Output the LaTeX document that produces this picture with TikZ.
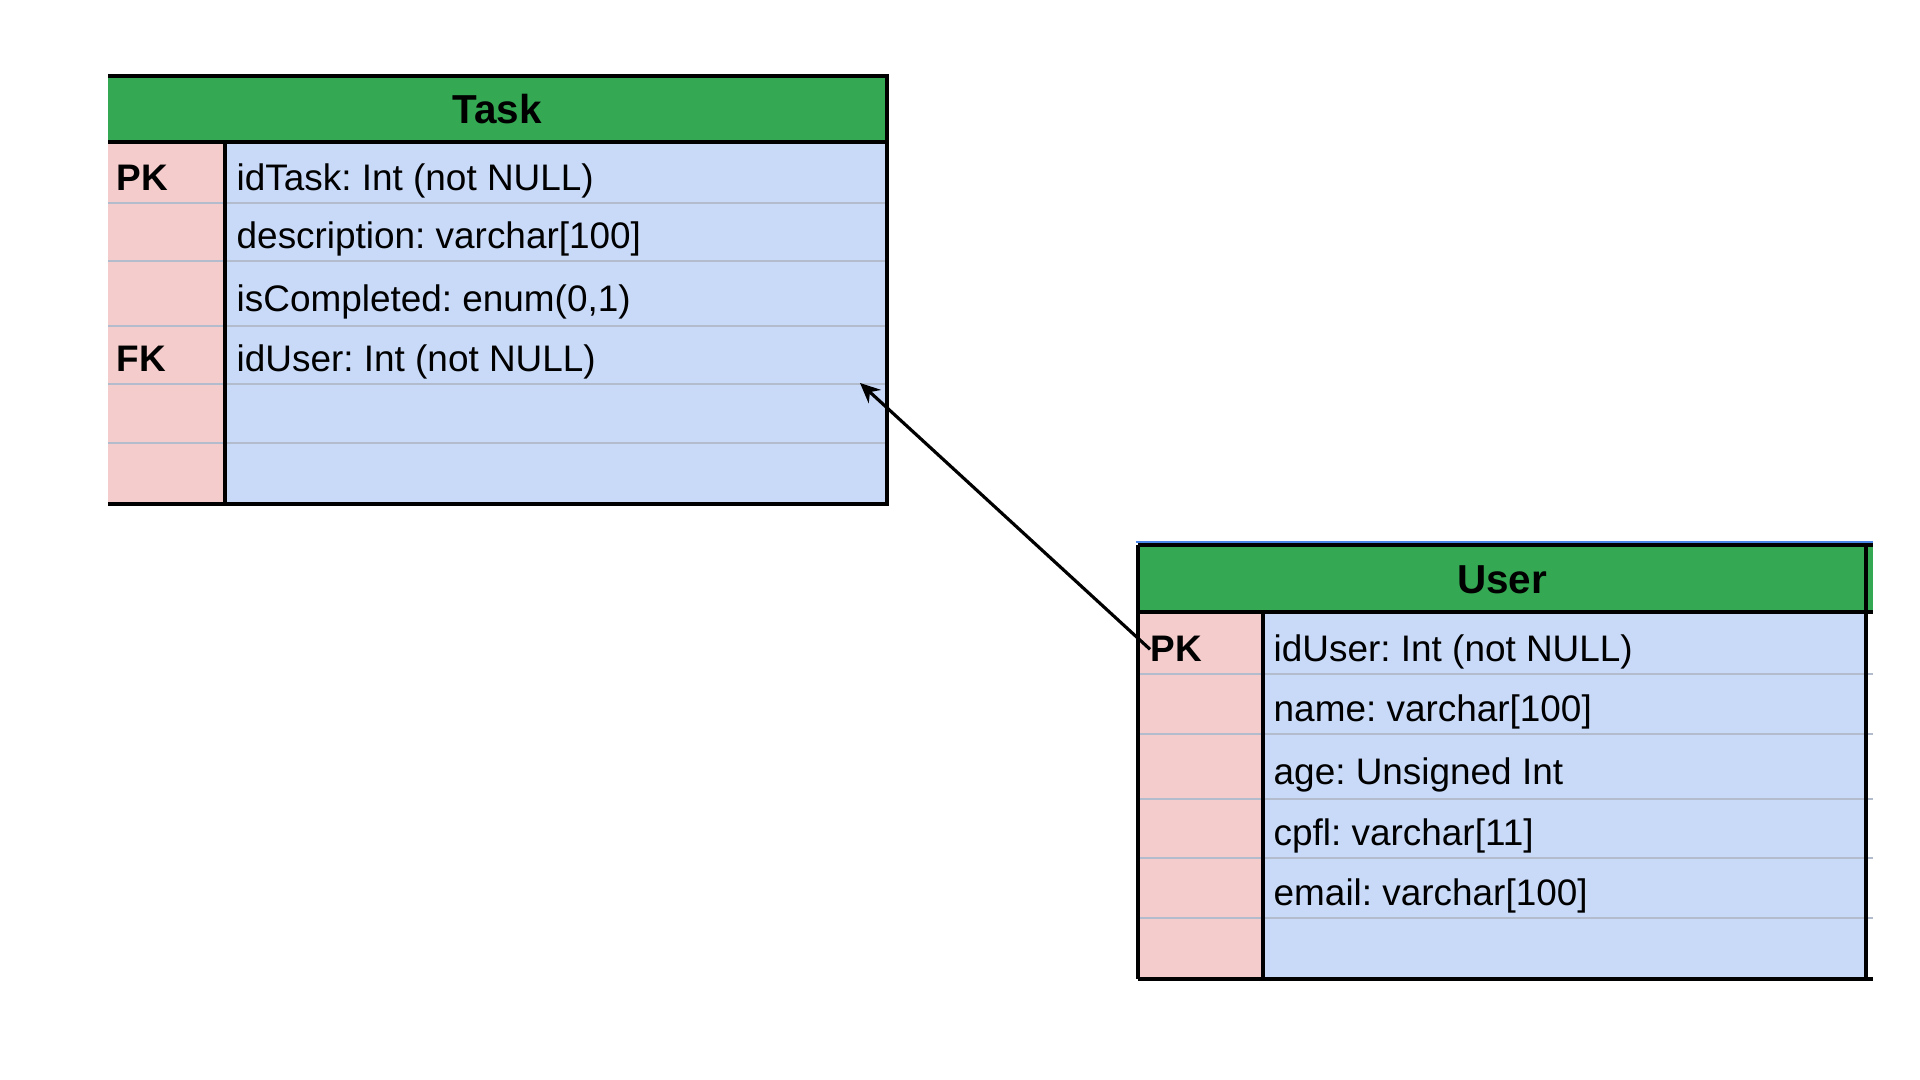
\documentclass[tikz,border=0pt]{standalone}
\usepackage{fontspec}
\setmainfont{Liberation Sans}
\usetikzlibrary{arrows.meta,positioning}
\definecolor{hdrgreen}{HTML}{34A853}
\definecolor{keypink}{HTML}{F4CCCC}
\definecolor{colblue}{HTML}{C9DAF8}
\definecolor{gridgray}{HTML}{B2BCCC}
\definecolor{selblue}{HTML}{4A86E8}
\frenchspacing

\begin{document}
\begin{tikzpicture}[x=0.01cm,y=-0.01cm,font=\fontsize{10.5}{12}\selectfont,
  cell/.style={anchor=base west,inner sep=0pt},
  key/.style={cell,font=\fontsize{10.5}{12}\selectfont\bfseries},
  title/.style={anchor=base,inner sep=0pt,font=\fontsize{11.5}{13}\selectfont\bfseries},
  grid/.style={gridgray,line width=0.6pt},
  border/.style={black,line width=1.4pt},
  arr/.style={-{Stealth[length=2mm,width=1.8mm]},line width=0.9pt}]
\useasboundingbox (0,0) rectangle (1920,1080);

% Task table
\fill[hdrgreen] (108,76) rectangle (887,142);
\fill[keypink] (108,142) rectangle (225,504);
\fill[colblue] (225,142) rectangle (887,504);
\foreach \y in {203,261,326,384,443}
  \draw[grid] (108,\y) -- (887,\y);
\draw[border] (108,76) -- (887,76) -- (887,504) -- (108,504);
\draw[border] (108,142) -- (887,142);
\draw[border] (225,142) -- (225,504);
\node[title] (task) at (497,124) {Task};
\node[key] (tpk) at (116,191) {PK};
\node[key] (tfk) at (116,372) {FK};
\node[cell] (tid) at (236,191) {idTask: Int (not NULL)};
\node[cell] (tdesc) at (236,249) {description: varchar[100]};
\node[cell] (tdone) at (236,312) {isCompleted: enum(0,1)};
\node[cell] (tuser) at (236,372) {idUser: Int (not NULL)};
\coordinate (fktarget) at (860,383);

% User table
\draw[selblue,line width=0.6pt] (1136,542) -- (1873,542);
\fill[hdrgreen] (1138,545) rectangle (1873,612);
\fill[keypink] (1138,612) rectangle (1263,979);
\fill[colblue] (1263,612) rectangle (1866,979);
\foreach \y in {674,734,799,858,918}
  \draw[grid] (1138,\y) -- (1873,\y);
\draw[border] (1138,545) -- (1873,545);
\draw[border] (1138,612) -- (1873,612);
\draw[border] (1138,979) -- (1873,979);
\draw[border] (1138,545) -- (1138,979);
\draw[border] (1866,545) -- (1866,979);
\draw[border] (1263,612) -- (1263,979);
\node[title] (user) at (1502,594) {User};
\node[key] (upk) at (1150,662) {PK};
\node[cell] (uid) at (1273,662) {idUser: Int (not NULL)};
\node[cell] (uname) at (1273,722) {name: varchar[100]};
\node[cell] (uage) at (1273,785) {age: Unsigned Int};
\node[cell] (ucpf) at (1273,846) {cpfl: varchar[11]};
\node[cell] (umail) at (1273,906) {email: varchar[100]};

% relation
\draw[arr] (upk.west) -- (fktarget);
\end{tikzpicture}
\end{document}
